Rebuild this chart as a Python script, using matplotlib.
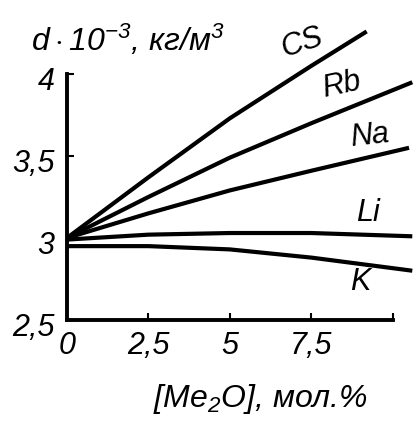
import numpy as np
import matplotlib.pyplot as plt
from matplotlib.transforms import ScaledTranslation

# curve data: [Me2O] mol.% vs density d*10^-3 kg/m3
x_cs = [0, 2.5, 5, 7.5, 9.2]
y_cs = [3.0, 3.37, 3.73, 4.05, 4.26]
x_rb = [0, 2.5, 5, 7.5, 10.6]
y_rb = [3.0, 3.25, 3.49, 3.70, 3.95]
x_na = [0, 2.5, 5, 7.5, 10.5]
y_na = [3.0, 3.15, 3.29, 3.41, 3.55]
x_li = [0, 2.5, 5, 7.5, 10.6]
y_li = [2.99, 3.02, 3.03, 3.03, 3.01]
x_k = [0, 2.5, 5, 7.5, 10.6]
y_k = [2.95, 2.95, 2.93, 2.88, 2.80]

xticks = [0, 2.5, 5, 7.5, 10]
xticklabels = ['0', '2,5', '5', '7,5', '']
yticks = [2.5, 3, 3.5, 4]
yticklabels = ['2,5', '3', '3,5', '4']

plt.rcParams['font.family'] = ['Liberation Sans', 'DejaVu Sans']
plt.rcParams['font.style'] = 'italic'
plt.rcParams['mathtext.fontset'] = 'custom'
plt.rcParams['mathtext.rm'] = 'Liberation Sans:italic'
plt.rcParams['mathtext.it'] = 'Liberation Sans:italic'

fig = plt.figure(figsize=(4.16, 4.22), dpi=100)
ax = fig.add_axes([0.161, 0.242, 0.834, 0.699])

for xs, ys in [(x_cs, y_cs), (x_rb, y_rb), (x_na, y_na), (x_li, y_li), (x_k, y_k)]:
    ax.plot(xs, ys, color='black', lw=3, solid_capstyle='butt', solid_joinstyle='round')

ax.set_xlim(0, 10.65)
ax.set_ylim(2.5, 4.3)
ax.spines['top'].set_visible(False)
ax.spines['right'].set_visible(False)
ax.spines['left'].set_bounds(2.5, 4.0)
ax.spines['bottom'].set_bounds(0, 10)
for s in ['left', 'bottom']:
    ax.spines[s].set_linewidth(2.8)

ax.set_xticks(xticks)
ax.set_xticklabels(xticklabels)
ax.set_yticks(yticks)
ax.set_yticklabels(yticklabels)
ax.tick_params(direction='in', length=5, width=1.5, labelsize=22)
ax.tick_params(axis='y', pad=9)
ax.tick_params(axis='x', pad=8)
# y labels sit slightly below their ticks in the original
for lab in ax.get_yticklabels():
    lab.set_transform(lab.get_transform() + ScaledTranslation(0, -3 / 72, fig.dpi_scale_trans))

# curve labels
lab_kw = dict(fontsize=22, ha='center', va='center')
ax.text(7.2, 4.19, 'CS', rotation=18, **lab_kw)
ax.text(8.44, 3.93, 'Rb', rotation=12, **lab_kw)
ax.text(9.3, 3.62, 'Na', rotation=6, **lab_kw)
ax.text(9.23, 3.15, 'Li', **lab_kw)
ax.text(9.0, 2.73, 'K', **lab_kw)

fig.text(0.075, 0.88, r'$d\cdot10^{-3}$, кг/м$^3$', fontsize=23)
fig.text(0.625, 0.035, r'[Me$_2$O], мол.%', fontsize=23, ha='center')

fig.savefig('out.png', dpi=100)
